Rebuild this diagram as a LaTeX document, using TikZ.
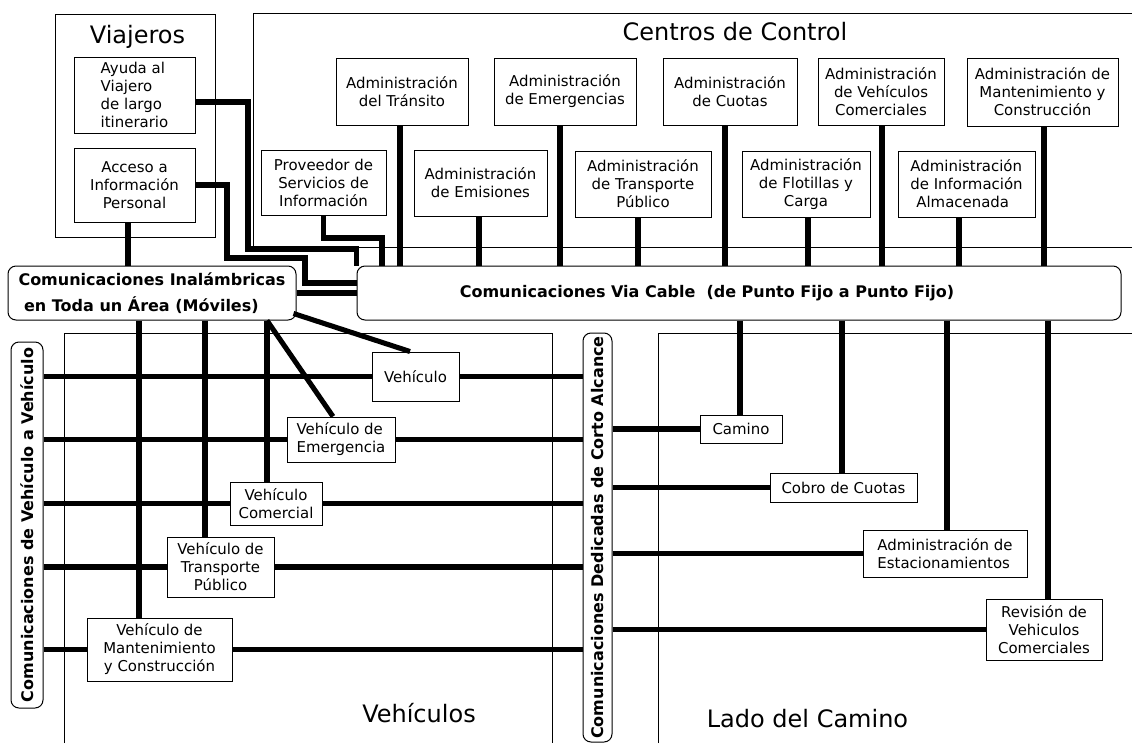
\documentclass[tikz,border=0pt]{standalone}
\usepackage{fontspec}
\setmainfont{DejaVu Sans}
\usetikzlibrary{calc}
\newcommand\dgboxfont{\fontsize{11.2}{13.5}\selectfont}
\newcommand\dgbusfont{\fontsize{12}{20}\selectfont\bfseries}
\newcommand\dgtitlefont{\fontsize{18}{20}\selectfont}
\tikzset{
  box/.style={draw, line width=0.75pt, fill=white, inner sep=0pt, align=center, font=\dgboxfont},
  sz/.style 2 args={minimum width=#1*0.75pt, minimum height=#2*0.75pt},
  bus/.style={draw, line width=0.75pt, fill=white, rounded corners=6pt, inner sep=0pt, font=\dgbusfont},
  wire/.style={line width=3.8pt},
  frame/.style={line width=0.75pt},
  title/.style={font=\dgtitlefont, inner sep=0pt, anchor=base},
}
\begin{document}
\begin{tikzpicture}[x=0.75pt,y=-0.75pt]
\fill[white] (0,0) rectangle (1132,743);
\useasboundingbox (0,0) rectangle (1132,743);
% region frames
\draw[frame] (55,14) rectangle (215,237);
\draw[frame] (1132,13) -- (253,13) -- (253,247) -- (1132,247);
\draw[frame] (64,743) -- (64,333) -- (552,333) -- (552,743);
\draw[frame] (658,743) -- (658,333) -- (1132,333);
% titles
\node[title] (tviaj) at (137.5,43) {Viajeros};
\node[title] (tcent) at (735,40) {Centros de Control};
\node[title] (tveh) at (419,722) {Vehículos};
\node[title] (tlado) at (807.5,727) {Lado del Camino};
% Viajeros
\node[box, sz={121}{76}, align=left] (ayuda) at (134.5,95) {Ayuda al\\Viajero\\de largo\\itinerario};
\node[box, sz={121}{74}] (acceso) at (134.5,185) {Acceso a\\Información\\Personal};
% Centros de control
\node[box, sz={132}{67}] (transito) at (402,91.5) {Administración\\del Tránsito};
\node[box, sz={142}{67}] (emerg) at (565,91.5) {Administración\\de Emergencias};
\node[box, sz={134}{67}] (cuotas) at (730,91.5) {Administración\\de Cuotas};
\node[box, sz={126}{67}] (vehcom) at (881,91.5) {Administración\\de Vehículos\\Comerciales};
\node[box, sz={151}{68}] (mant) at (1042.5,92) {Administración de\\Mantenimiento y\\Construcción};
\node[box, sz={125}{65}] (prov) at (323.5,182.5) {Proveedor de\\Servicios de\\Información};
\node[box, sz={133}{66}] (emis) at (480.5,183) {Administración\\de Emisiones};
\node[box, sz={136}{66}] (tpub) at (643,184) {Administración\\de Transporte\\Público};
\node[box, sz={128}{66}] (flot) at (806,184) {Administración\\de Flotillas y\\Carga};
\node[box, sz={137}{66}, align=left] (almac) at (966.5,184) {Administración\\de Información\\\hspace{0.4em}Almacenada};
% buses
\node[bus, sz={288}{54}, align=left] (wireless) at (152,293) {Comunicaciones Inalámbricas\\\hspace{0.35em}en Toda un Área (Móviles)};
\node[bus, sz={764}{54}, label={[font=\dgbusfont, xshift=-24pt]center:Comunicaciones Via Cable~~(de Punto Fijo a Punto Fijo)}] (cable) at (739,293) {};
\node[bus, sz={366}{32}, rotate=90] (v2v) at (27,525) {Comunicaciones de Vehículo a Vehículo};
\node[bus, sz={409}{29}, rotate=90] (dsrc) at (597.5,537.5) {Comunicaciones Dedicadas de Corto Alcance};
% vehicles
\node[box, sz={87}{49}] (veh) at (415.5,376.5) {Vehículo};
\node[box, sz={108}{45}, align=left] (emerveh) at (341,439.5) {Vehículo de\\Emergencia};
\node[box, sz={92}{43}] (comveh) at (276,503.5) {Vehículo\\Comercial};
\node[box, sz={107}{60}] (tpveh) at (220.5,567) {Vehículo de\\Transporte\\Público};
\node[box, sz={145}{63}] (mantveh) at (159.5,649.5) {Vehículo de\\Mantenimiento\\y Construcción};
% roadside
\node[box, sz={82}{28}] (camino) at (741,429) {Camino};
\node[box, sz={147}{29}] (cobro) at (843.5,487.5) {Cobro de Cuotas};
\node[box, sz={164}{47}, align=left] (estac) at (945,553.5) {Administración de\\Estacionamientos};
\node[box, sz={116}{61}] (revis) at (1044,629.5) {Revisión de\\Vehiculos\\Comerciales};
% wires: travellers
\draw[wire] (ayuda.east |- 0,102) -| (248,249) -| (cable.north west);
\draw[wire] (acceso.east) -| (227,258) -| (305,283) -- (cable.west |- 0,283);
\draw[wire] (acceso.south -| 128,0) -- (wireless.north -| 128,0);
\draw[wire] (wireless.east) -- (cable.west);
\draw[wire] (prov.south) |- (382,238) -- (cable.north -| 382,0);
% wires: control centres
\foreach \n/\x in {transito/400, emis/479, emerg/560, tpub/638, cuotas/725, flot/808, vehcom/882, almac/959, mant/1044}
  \draw[wire] (\n.south -| \x,0) -- (cable.north -| \x,0);
% wires: wide-area wireless to vehicles
\draw[wire] (wireless.south -| 139,0) -- (mantveh.north -| 139,0);
\draw[wire] (wireless.south -| 205,0) -- (tpveh.north -| 205,0);
\draw[wire] (wireless.south -| 267,0) -- (comveh.north -| 267,0);
\draw[wire] (wireless.south -| 267,0) -- (emerveh.north -| 333,0);
\draw[wire] ([xshift=-2.25pt,yshift=5.25pt]wireless.south east) -- (veh.north -| 410,0);
% wires: vehicle to vehicle and DSRC
\foreach \n in {veh, emerveh, comveh, tpveh, mantveh} {
  \draw[wire] (v2v.south |- \n.west) -- (\n.west);
  \draw[wire] (\n.east) -- (dsrc.north |- \n.east);
}
% wires: DSRC to roadside
\foreach \n in {camino, cobro, estac, revis}
  \draw[wire] (dsrc.south |- \n.west) -- (\n.west);
% wires: wireline to roadside
\foreach \n/\x in {camino/740, cobro/842, estac/947, revis/1048}
  \draw[wire] (cable.south -| \x,0) -- (\n.north -| \x,0);
\end{tikzpicture}
\end{document}
